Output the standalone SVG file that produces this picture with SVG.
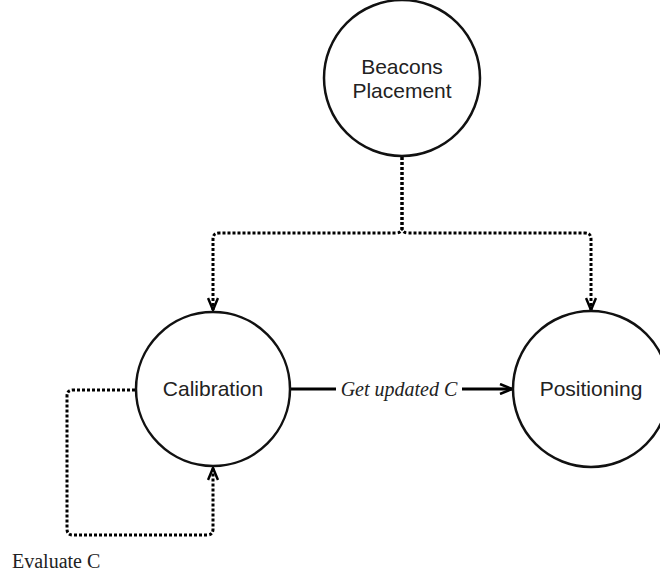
<svg xmlns="http://www.w3.org/2000/svg" width="660" height="576" viewBox="0 0 660 576">
  <style>
    .node { fill: #ffffff; stroke: #111111; stroke-width: 2.5; }
    .label { font-family: "Liberation Sans", Arial, sans-serif; font-size: 21px; fill: #222222; text-anchor: middle; }
    .edge { fill: none; stroke: #000000; stroke-width: 3; }
    .dotted { stroke-dasharray: 3 2; }
    .elabel { font-family: "Liberation Serif", "Times New Roman", serif; font-size: 20px; fill: #222222; }
  </style>
  <defs>
    <marker id="open-arrow" viewBox="0 0 14 12" refX="13" refY="6" markerWidth="14" markerHeight="12" markerUnits="userSpaceOnUse" orient="auto">
      <path d="M1,1 L13,6 L1,11" fill="none" stroke="#000000" stroke-width="2.5" stroke-dasharray="none"/>
    </marker>
  </defs>

  <g id="connectors">
    <!-- Beacons Placement -> Calibration -->
    <path class="edge dotted" d="M402,157 L402,227 Q402,233 396,233 L219,233 Q213,233 213,239 L213,310" marker-end="url(#open-arrow)"/>
    <!-- Beacons Placement -> Positioning -->
    <path class="edge dotted" d="M402,157 L402,227 Q402,233 408,233 L585,233 Q591,233 591,239 L591,310" marker-end="url(#open-arrow)"/>
    <!-- Calibration self loop (Evaluate C) -->
    <path class="edge dotted" d="M135,390 L73,390 Q67,390 67,396 L67,529 Q67,535 73,535 L207,535 Q213,535 213,529 L213,468" marker-end="url(#open-arrow)"/>
    <!-- Calibration -> Positioning -->
    <path class="edge" d="M291,389 L336,389"/>
    <path class="edge" d="M462,389 L512,389" marker-end="url(#open-arrow)"/>
    <text class="elabel" x="399" y="396" text-anchor="middle" font-style="italic">Get updated C</text>
    <text class="elabel" x="12" y="568">Evaluate C</text>
  </g>

  <g id="beacons-placement">
    <circle class="node" cx="402" cy="78" r="78"/>
    <text class="label" x="402" y="74">Beacons</text>
    <text class="label" x="402" y="98">Placement</text>
  </g>

  <g id="calibration">
    <circle class="node" cx="213" cy="389" r="77"/>
    <text class="label" x="213" y="396">Calibration</text>
  </g>

  <g id="positioning">
    <circle class="node" cx="591" cy="389" r="78"/>
    <text class="label" x="591" y="396">Positioning</text>
  </g>
</svg>
